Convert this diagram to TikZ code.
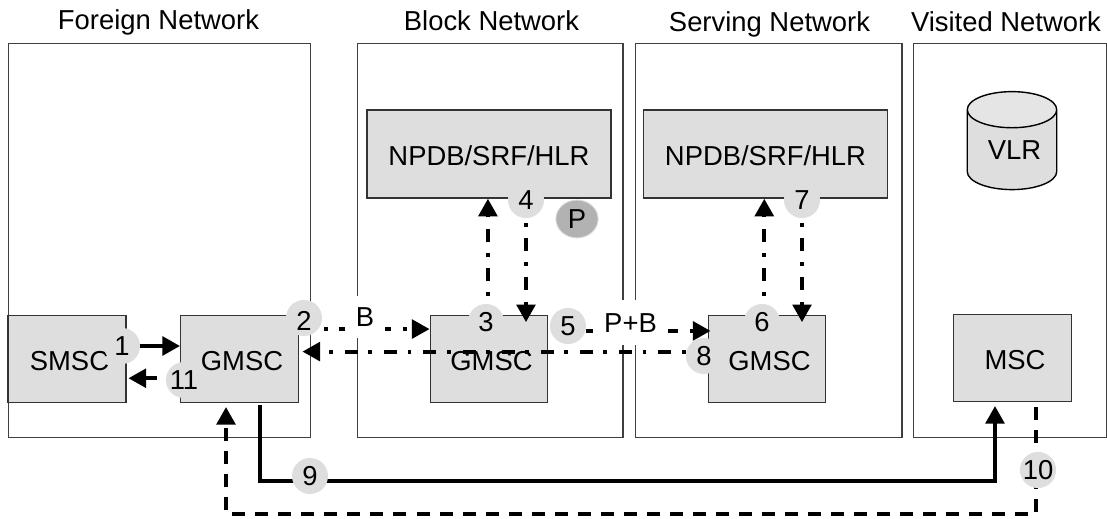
\documentclass[tikz,border=0pt]{standalone}
\usepackage{fontspec}
\setmainfont{Liberation Sans}
\usetikzlibrary{arrows.meta,shapes.geometric}
\tikzset{
	net/.style={draw=black!75,line width=0.8pt,fill=white,anchor=north west,inner sep=0pt,minimum height=7.88cm},
	unit/.style={draw=black!80,line width=0.8pt,fill=black!13,inner sep=0pt,text height=13.2pt,text depth=0pt,font=\fontsize{15.6}{18}\selectfont},
	nudged/.style={execute at begin node=\hspace{2.8pt}},
	badge/.style={circle,fill=black!13,inner sep=0pt,minimum size=20.5pt,font=\fontsize{15.6}{18}\selectfont},
	title/.style={anchor=base,font=\fontsize{15.6}{18}\selectfont},
	tag/.style={fill=white,inner sep=0pt,font=\fontsize{15.6}{18}\selectfont},
	flow/.style={line width=2.3pt,-{Triangle[length=10pt,width=10.5pt]}},
	flowdash/.style={flow,dash pattern=on 7.4pt off 5.7pt},
	flowdot/.style={flow,dash pattern=on 7.4pt off 6.8pt on 2.2pt off 5.9pt}
}
\begin{document}
\begin{tikzpicture}[x=0.02cm,y=-0.02cm]
\useasboundingbox (0,0) rectangle (1107,519);

\node[title] (tforeign) at (158.5,30)	{Foreign Network};
\node[title] (tblock) at (491.5,31)		{Block Network};
\node[title] (tserving) at (769.5,32)	{Serving Network};
\node[title] (tvisited) at (1006,32)	{Visited Network};

\node[net,minimum width=6.04cm] (foreign) at (8,43)		{};
\node[net,minimum width=5.31cm] (block) at (357,43)		{};
\node[net,minimum width=5.33cm] (serving) at (634.7,43)	{};
\node[net,minimum width=3.88cm] (visited) at (912.5,43)	{};

\node[unit,minimum width=4.88cm,minimum height=1.76cm] (npdb1) at (489,154)		{NPDB/SRF/HLR};
\node[unit,minimum width=4.87cm,minimum height=1.76cm] (npdb2) at (765.5,154)	{NPDB/SRF/HLR};

\node[unit,nudged,minimum width=2.36cm,minimum height=1.74cm] (smsc) at (67,359)		{SMSC};
\node[unit,nudged,minimum width=2.35cm,minimum height=1.74cm] (gmsc1) at (239.5,359)	{GMSC};
\node[unit,nudged,minimum width=2.35cm,minimum height=1.74cm] (gmsc2) at (489,359)		{GMSC};
\node[unit,nudged,minimum width=2.35cm,minimum height=1.74cm] (gmsc3) at (767,359)		{GMSC};
\node[unit,nudged,minimum width=2.36cm,minimum height=1.74cm] (msc) at (1012.5,358)		{MSC};

\node[draw=black,line width=0.8pt,cylinder,shape border rotate=90,aspect=0.62,nudged,
	cylinder uses custom fill,cylinder body fill=black!13,cylinder end fill=black!10,
	minimum width=1.79cm,minimum height=1.96cm,inner sep=0pt,
	font=\fontsize{15.6}{18}\selectfont] (vlr) at (1012,150) {VLR};

\coordinate (c1) at (260,405);
\coordinate (c2) at (260,481);
\coordinate (c3) at (995,481);
\coordinate (c4) at (995,406);
\coordinate (c5) at (1036,407);
\coordinate (c6) at (1036,514);
\coordinate (c7) at (226,514);
\coordinate (c8) at (226,407);

\draw [flow] (c1) -- (c2) -- (c3) -- (c4);
\draw [flowdash] (c5) -- (c6) -- (c7) -- (c8);

\node[badge] (n1) at (122,346)		{1};
\node[badge,text height=14pt] (n2) at (304,318)		{2};
\node[badge] (n3) at (486,322)		{3};
\node[badge] (n4) at (526,200)		{4};
\node[badge] (n5) at (568,326)		{5};
\node[badge] (n6) at (762,322)		{6};
\node[badge] (n7) at (802,200)		{7};
\node[badge] (n8) at (704,356)		{8};
\node[badge] (n9) at (310,476)		{9};
\node[badge] (n10) at (1038,470)	{10};
\node[badge] (n11) at (184,380)		{11};

\node[ellipse,fill=black!30,draw=black!15,line width=0.5pt,minimum width=24pt,minimum height=21.5pt,inner sep=0pt,
	font=\fontsize{15.6}{18}\selectfont] (p) at (577,219) {P};

\draw [flow] (n1.east) -- (gmsc1.west |- n1.east);
\draw [flowdash,dash phase=7.9pt] ([yshift=1pt]n11.west) -- ([yshift=1pt,xshift=1pt]smsc.east |- n11.west);
\draw [flowdot,dash phase=13pt] ([yshift=-6.3pt]n2.east) -- ([yshift=-6.3pt]n2.east -| gmsc2.west);
\draw [flowdot,dash phase=14.2pt] ([yshift=2.5pt]n8.west) -- ([yshift=2.5pt,xshift=2pt]n8.west -| gmsc1.east);
\draw [flowdot,dash phase=9.7pt] ([xshift=1.1pt]n3.north) -- ([xshift=1.1pt]n3.north |- npdb1.south);
\draw [flowdot,dash phase=11.4pt] (n4.south) -- ([yshift=-4.2pt]n4.south |- gmsc2.north);
\draw [flowdot] ([yshift=-2.8pt]n5.east) -- ([yshift=-2.8pt,xshift=1.7pt]n5.east -| gmsc3.west);
\draw [flowdot,dash phase=9.7pt] ([xshift=1.3pt]n6.north) -- ([xshift=1.3pt]n6.north |- npdb2.south);
\draw [flowdot,dash phase=11.4pt] (n7.south) -- ([yshift=-4.2pt]n7.south |- gmsc3.north);

\node[tag,minimum width=0.8cm,minimum height=0.84cm] (b) at (365,317)	{B};
\node[tag,minimum width=1.5cm,minimum height=0.9cm] (pb) at (630.5,323)	{P+B};

\end{tikzpicture}
\end{document}
